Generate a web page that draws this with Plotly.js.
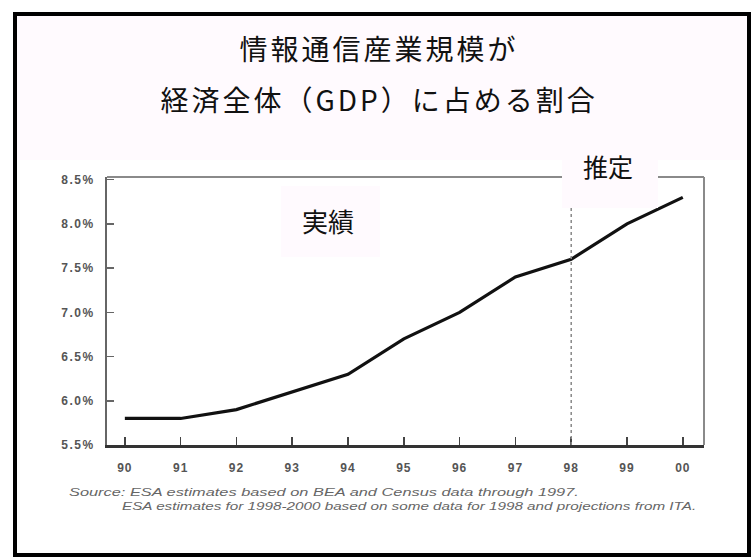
<!DOCTYPE html>
<html>
<head>
<meta charset="utf-8">
<script src="https://cdn.plot.ly/plotly-3.0.1.min.js"></script>
<style>
  html, body { margin: 0; padding: 0; background: #ffffff; }
  #chart { width: 754px; height: 557px; }
</style>
</head>
<body>
<div id="chart"></div>
<script>
// Share of the information & telecom industry in total GDP (%), 1990-2000
const years = [90, 91, 92, 93, 94, 95, 96, 97, 98, 99, 100];
const yearLabels = ['90', '91', '92', '93', '94', '95', '96', '97', '98', '99', '00'];
const sharePct = [5.8, 5.8, 5.9, 6.1, 6.3, 6.7, 7.0, 7.4, 7.6, 8.0, 8.3];
const yTickVals = [5.5, 6.0, 6.5, 7.0, 7.5, 8.0, 8.5];
const yTickLabels = ['5.5%', '6.0%', '6.5%', '7.0%', '7.5%', '8.0%', '8.5%'];
const estimateStartYear = 98;

const titleLines = ['情報通信産業規模が', '経済全体（GDP）に占める割合'];
const actualLabel = '実績';
const estimateLabel = '推定';
const sourceLines = [
  'Source: ESA estimates based on BEA and Census data through 1997.',
  'ESA estimates for 1998-2000 based on some data for 1998 and projections from ITA.'
];

// Page geometry (pixels) and helpers converting to paper coordinates
const W = 754, H = 557;
const M = { l: 107, r: 50, t: 177, b: 112 };
const plotW = W - M.l - M.r, plotH = H - M.t - M.b;
const px = p => (p - M.l) / plotW;
const py = p => (H - M.b - p) / plotH;

const jp = '"Noto Sans CJK JP", "Noto Sans", sans-serif';
const sans = '"Liberation Sans", Arial, sans-serif';
const pink = '#fffafe';

const trace = {
  x: years,
  y: sharePct,
  type: 'scatter',
  mode: 'lines',
  line: { color: '#111111', width: 3.2 },
  hoverinfo: 'skip'
};

const shapes = [
  // pale header band
  { type: 'rect', xref: 'paper', yref: 'paper', x0: px(17), x1: px(747), y0: py(16), y1: py(160),
    fillcolor: pink, line: { width: 0 }, layer: 'below' },
  // outer frame
  { type: 'rect', xref: 'paper', yref: 'paper', x0: px(15), x1: px(749), y0: py(14), y1: py(555),
    line: { color: '#000000', width: 4 }, fillcolor: 'rgba(0,0,0,0)' },
  // light plot border (top and right)
  { type: 'line', xref: 'paper', yref: 'paper', x0: 0, x1: 1, y0: 1, y1: 1,
    line: { color: '#8a8a8a', width: 2 } },
  { type: 'line', xref: 'paper', yref: 'paper', x0: 1, x1: 1, y0: 0, y1: 1,
    line: { color: '#8a8a8a', width: 2 } },
  // estimate boundary
  { type: 'line', xref: 'x', yref: 'paper', x0: estimateStartYear, x1: estimateStartYear, y0: 0, y1: py(208),
    line: { color: '#888888', width: 1.5, dash: 'dot' } },
  // label backgrounds
  { type: 'rect', xref: 'paper', yref: 'paper', x0: px(562), x1: px(658), y0: py(208), y1: py(158),
    fillcolor: pink, line: { width: 0 } },
  { type: 'rect', xref: 'paper', yref: 'paper', x0: px(281), x1: px(380), y0: py(257), y1: py(186),
    fillcolor: pink, line: { width: 0 } }
];

const annotations = [
  { text: titleLines[0], xref: 'paper', yref: 'paper', x: px(379), y: py(48),
    showarrow: false, xanchor: 'center', yanchor: 'middle', font: { family: jp, size: 28, color: '#111' } },
  { text: titleLines[1], xref: 'paper', yref: 'paper', x: px(379), y: py(99),
    showarrow: false, xanchor: 'center', yanchor: 'middle', font: { family: jp, size: 28, color: '#111' } },
  { text: actualLabel, xref: 'paper', yref: 'paper', x: px(328), y: py(220),
    showarrow: false, xanchor: 'center', yanchor: 'middle', font: { family: jp, size: 26, color: '#111' } },
  { text: estimateLabel, xref: 'paper', yref: 'paper', x: px(608), y: py(166),
    showarrow: false, xanchor: 'center', yanchor: 'middle', font: { family: jp, size: 25, color: '#111' } },
  { text: '<i>' + sourceLines[0] + '</i>', xref: 'paper', yref: 'paper', x: px(67), y: py(492),
    showarrow: false, xanchor: 'left', yanchor: 'middle', align: 'left',
    font: { family: sans, size: 11, color: '#666' } },
  { text: '<i>' + sourceLines[1] + '</i>', xref: 'paper', yref: 'paper', x: px(120), y: py(506),
    showarrow: false, xanchor: 'left', yanchor: 'middle', align: 'left',
    font: { family: sans, size: 11, color: '#666' } }
];

const layout = {
  width: W,
  height: H,
  margin: { l: M.l, r: M.r, t: M.t, b: M.b, pad: 0 },
  paper_bgcolor: '#ffffff',
  plot_bgcolor: '#ffffff',
  showlegend: false,
  xaxis: {
    range: [89.68, 100.38],
    tickmode: 'array',
    tickvals: years,
    ticktext: yearLabels,
    ticks: 'inside',
    ticklen: 8,
    tickwidth: 1.5,
    tickcolor: '#444',
    showline: true,
    linecolor: '#333',
    linewidth: 2.5,
    showgrid: false,
    zeroline: false,
    ticklabelstandoff: 10,
    tickfont: { family: sans, size: 12, color: '#555', weight: 'bold' }
  },
  yaxis: {
    range: [5.5, 8.53],
    tickmode: 'array',
    tickvals: yTickVals,
    ticktext: yTickLabels,
    ticks: 'inside',
    ticklen: 7,
    tickwidth: 1.5,
    tickcolor: '#666',
    showline: true,
    linecolor: '#666',
    linewidth: 2,
    showgrid: false,
    zeroline: false,
    ticklabelstandoff: 8,
    tickfont: { family: sans, size: 12, color: '#555', weight: 'bold' }
  },
  shapes: shapes,
  annotations: annotations
};

// Extra tracking for the wide-set text
function spaceText(selector, spacing) {
  document.querySelectorAll(selector).forEach(t => { t.style.letterSpacing = spacing; });
}

// Stretch a left-aligned annotation horizontally so it spans the given width
function stretchText(index, targetWidth) {
  const t = document.querySelector('.annotation[data-index="' + index + '"] text');
  if (!t) return;
  const b = t.getBBox();
  const s = targetWidth / b.width;
  t.setAttribute('transform',
    'translate(' + b.x + ',0) scale(' + s + ',1) translate(' + (-b.x) + ',0)');
}

Plotly.newPlot('chart', [trace], layout, { staticPlot: true, displayModeBar: false }).then(() => {
  spaceText('.annotation[data-index="0"] text, .annotation[data-index="1"] text', '3px');
  spaceText('.ytick text', '1.5px');
  spaceText('.xtick text', '1px');
  stretchText(4, 510);
  stretchText(5, 575);
});
</script>
</body>
</html>
